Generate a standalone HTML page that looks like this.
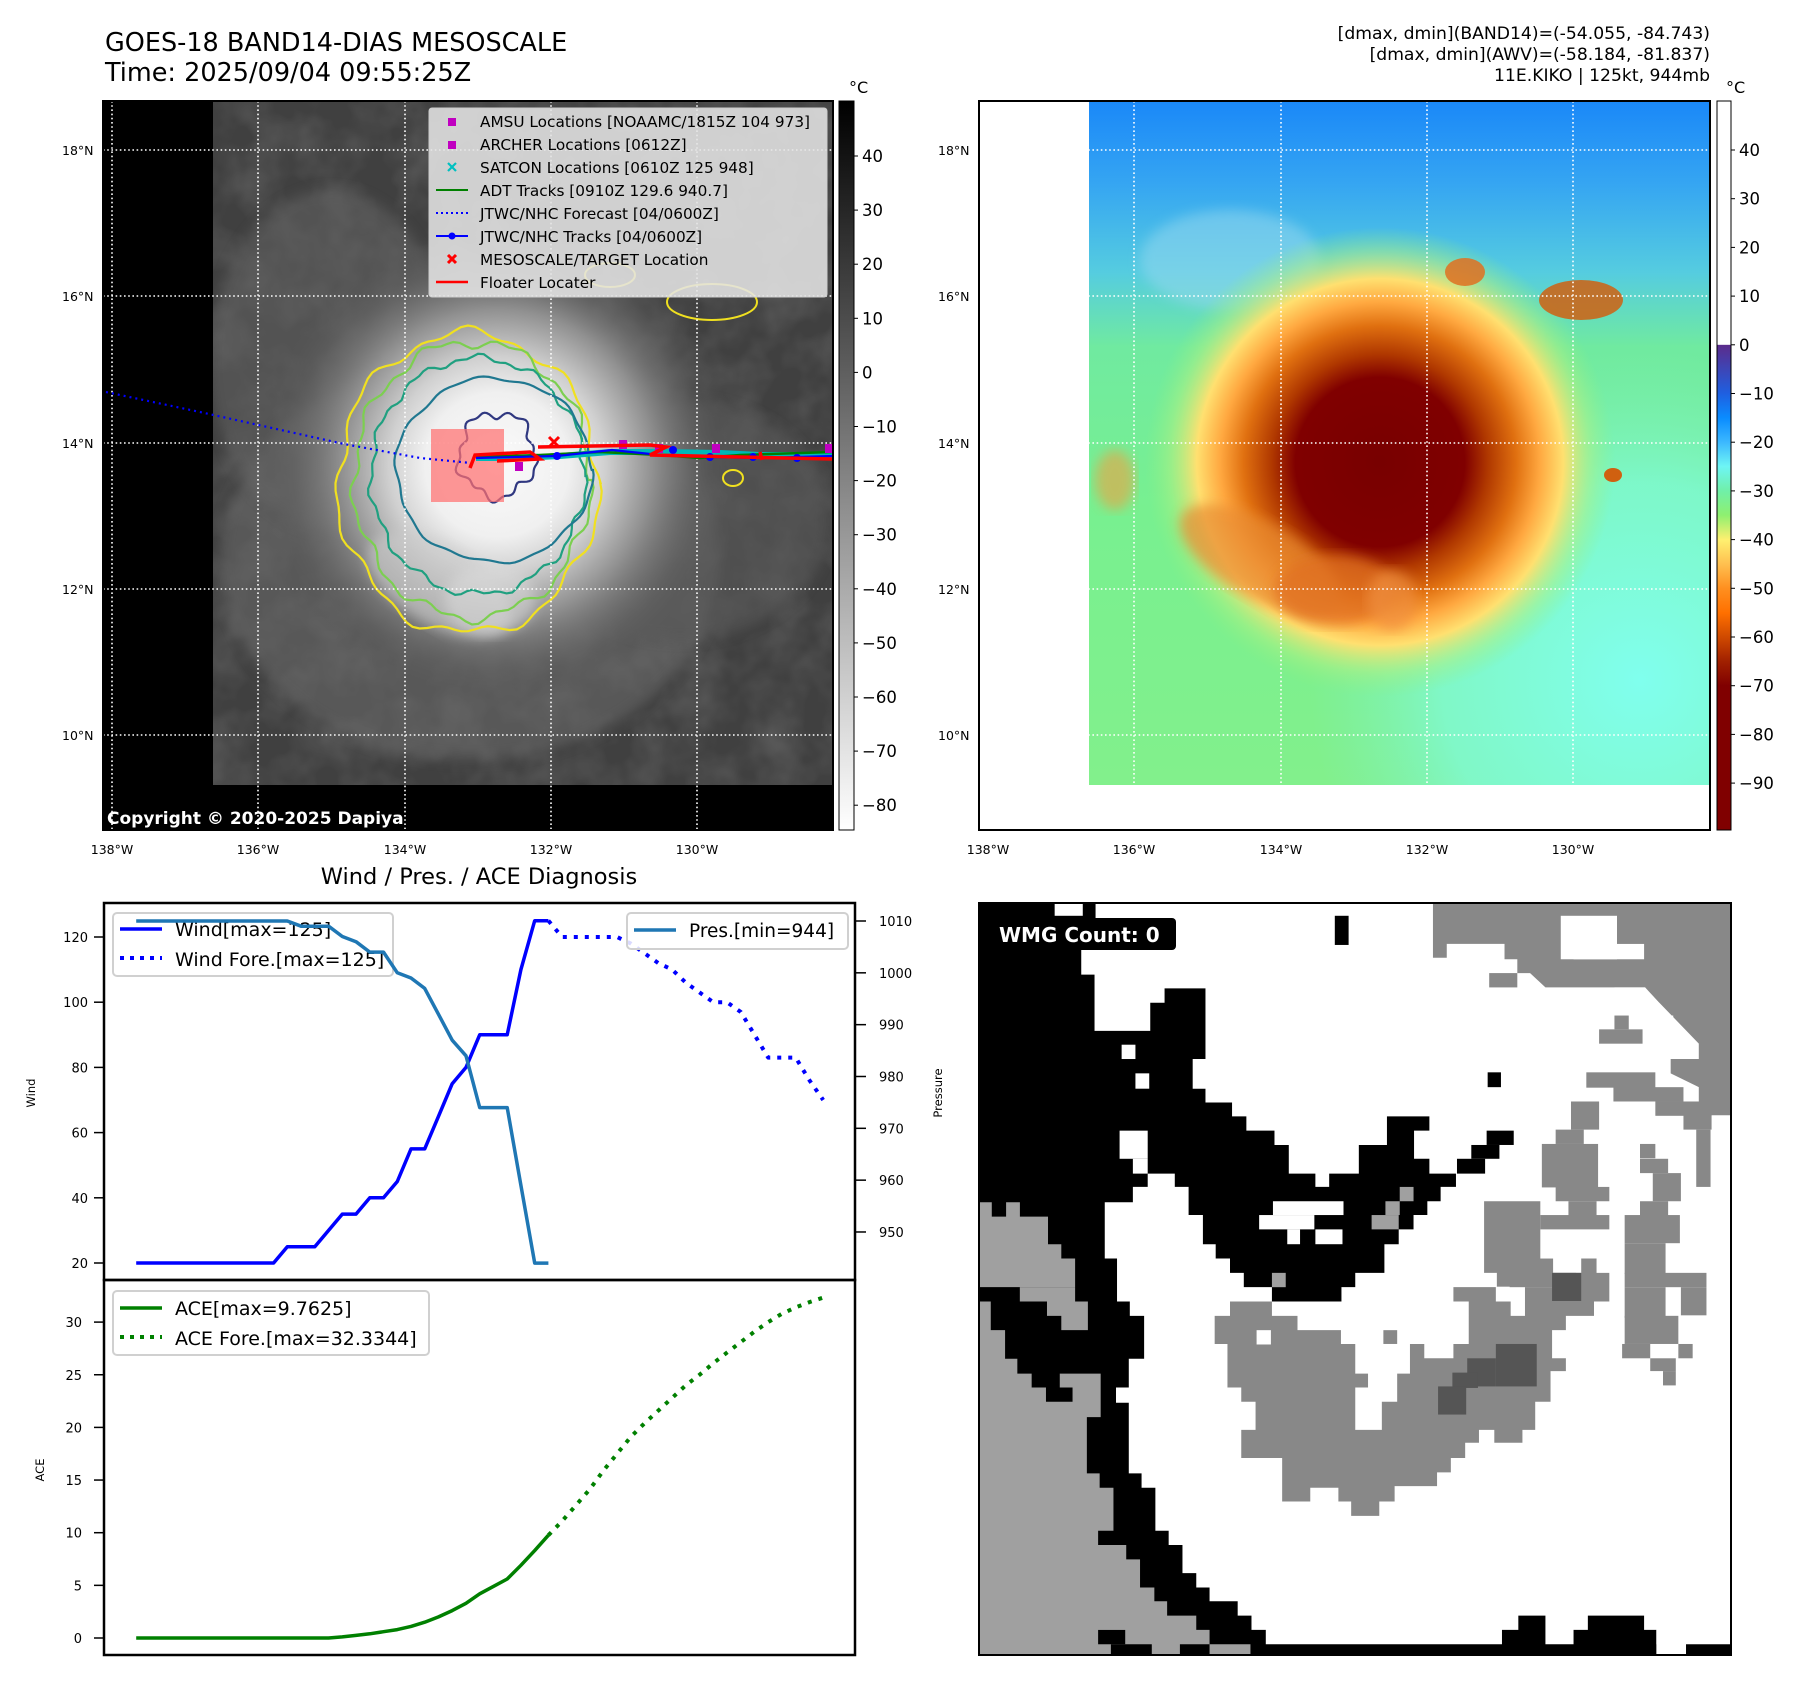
<!DOCTYPE html>
<html><head><meta charset="utf-8"><style>
body{margin:0;background:#fff}
svg{display:block}
text{font-family:"DejaVu Sans","Liberation Sans",sans-serif}
</style></head><body>
<svg id="root" width="1797" height="1690" viewBox="0 0 1797 1690" xmlns="http://www.w3.org/2000/svg">
<defs>
<linearGradient id="cbGray" x1="0" y1="0" x2="0" y2="1"><stop offset="0" stop-color="#000"/><stop offset="1" stop-color="#fff"/></linearGradient>
<linearGradient id="cbColor" x1="0" y1="0" x2="0" y2="1">
<stop offset="0" stop-color="#fff"/><stop offset="0.334" stop-color="#fff"/><stop offset="0.335" stop-color="#5b2c8c"/>
<stop offset="0.401" stop-color="#1f5fe0"/><stop offset="0.435" stop-color="#0a8cff"/><stop offset="0.468" stop-color="#3cb8ff"/>
<stop offset="0.501" stop-color="#6ef5f5"/><stop offset="0.535" stop-color="#70f0a8"/><stop offset="0.568" stop-color="#8ef070"/>
<stop offset="0.602" stop-color="#fff070"/><stop offset="0.635" stop-color="#ffc050"/><stop offset="0.668" stop-color="#ff9020"/>
<stop offset="0.702" stop-color="#ff7000"/><stop offset="0.735" stop-color="#d04a00"/><stop offset="0.769" stop-color="#a02000"/>
<stop offset="0.802" stop-color="#800000"/><stop offset="1" stop-color="#800000"/></linearGradient>
<radialGradient id="stormGray" cx="497" cy="465" r="240" gradientUnits="userSpaceOnUse">
<stop offset="0" stop-color="#fafafa"/><stop offset="0.3" stop-color="#f0f0f0"/><stop offset="0.45" stop-color="#d0d0d0"/>
<stop offset="0.65" stop-color="#909090"/><stop offset="0.85" stop-color="#666" stop-opacity="0.5"/><stop offset="1" stop-color="#555" stop-opacity="0"/></radialGradient>
<linearGradient id="bgColor" x1="0" y1="101" x2="0" y2="785" gradientUnits="userSpaceOnUse">
<stop offset="0" stop-color="#1a88f8"/><stop offset="0.12" stop-color="#35a5f2"/><stop offset="0.25" stop-color="#55cce0"/>
<stop offset="0.36" stop-color="#70eaa0"/><stop offset="0.6" stop-color="#78f090"/><stop offset="1" stop-color="#82f08c"/></linearGradient>
<radialGradient id="cyanR" cx="1640" cy="680" r="330" gradientUnits="userSpaceOnUse">
<stop offset="0" stop-color="#80ffee"/><stop offset="0.6" stop-color="#80fbe0" stop-opacity="0.7"/><stop offset="1" stop-color="#80f0c0" stop-opacity="0"/></radialGradient>
<radialGradient id="stormColor" cx="1380" cy="462" r="235" gradientUnits="userSpaceOnUse">
<stop offset="0" stop-color="#780000"/><stop offset="0.36" stop-color="#800000"/><stop offset="0.46" stop-color="#b03800"/>
<stop offset="0.58" stop-color="#e07010"/><stop offset="0.68" stop-color="#ffa840"/><stop offset="0.78" stop-color="#ffe070"/>
<stop offset="0.9" stop-color="#b0f080" stop-opacity="0.5"/><stop offset="1" stop-color="#90f080" stop-opacity="0"/></radialGradient>
<filter id="tex" x="0" y="0" width="1" height="1">
<feTurbulence type="fractalNoise" baseFrequency="0.025" numOctaves="3" seed="4"/>
<feColorMatrix values="0 0 0 0 1  0 0 0 0 1  0 0 0 0 1  0.6 0 0 0 -0.2"/>
</filter>
<filter id="blur6"><feGaussianBlur stdDeviation="6"/></filter>
<clipPath id="clipL"><rect x="213" y="101" width="620" height="684"/></clipPath>
<clipPath id="clipR"><rect x="1089" y="101" width="620" height="684"/></clipPath>
</defs>

<text x="105" y="51" font-size="25.5">GOES-18 BAND14-DIAS MESOSCALE</text>
<text x="105" y="81" font-size="25.5">Time: 2025/09/04 09:55:25Z</text>
<g font-size="17.2" text-anchor="end">
<text x="1710" y="39">[dmax, dmin](BAND14)=(-54.055, -84.743)</text>
<text x="1710" y="60">[dmax, dmin](AWV)=(-58.184, -81.837)</text>
<text x="1710" y="81">11E.KIKO | 125kt, 944mb</text>
</g>

<g>
<rect x="103" y="101" width="730" height="729" fill="#000"/>
<g clip-path="url(#clipL)">
<rect x="213" y="101" width="620" height="684" fill="#404040"/>
<rect x="213" y="101" width="620" height="684" filter="url(#tex)" opacity="0.35"/>
<ellipse cx="470" cy="560" rx="250" ry="200" fill="#707070" opacity="0.5" filter="url(#blur6)"/>
<ellipse cx="680" cy="520" rx="150" ry="120" fill="#5a5a5a" opacity="0.6" filter="url(#blur6)"/>
<ellipse cx="330" cy="360" rx="120" ry="170" fill="#666" opacity="0.5" filter="url(#blur6)"/>
<circle cx="497" cy="465" r="240" fill="url(#stormGray)"/>
<ellipse cx="440" cy="585" rx="80" ry="40" fill="#ccc" opacity="0.6" transform="rotate(30 440 585)" filter="url(#blur6)"/>
<ellipse cx="490" cy="600" rx="45" ry="35" fill="#ddd" opacity="0.5" filter="url(#blur6)"/>
<g id="contours" fill="none" stroke-width="2.2"></g>
<ellipse cx="712" cy="302" rx="45" ry="18" fill="none" stroke="#f0e020" stroke-width="2"/>
<ellipse cx="610" cy="275" rx="25" ry="12" fill="none" stroke="#f0e020" stroke-width="2"/>
<ellipse cx="733" cy="478" rx="10" ry="8" fill="none" stroke="#f0e020" stroke-width="2"/>
</g>
<g stroke="#fff" stroke-width="1.6" stroke-dasharray="1.6,2.6">
<line x1="112" y1="101" x2="112" y2="830"/><line x1="258" y1="101" x2="258" y2="830"/><line x1="405" y1="101" x2="405" y2="830"/><line x1="551" y1="101" x2="551" y2="830"/><line x1="697" y1="101" x2="697" y2="830"/>
<line x1="103" y1="150" x2="833" y2="150"/><line x1="103" y1="296" x2="833" y2="296"/><line x1="103" y1="443" x2="833" y2="443"/><line x1="103" y1="589" x2="833" y2="589"/><line x1="103" y1="735" x2="833" y2="735"/>
</g>
<rect x="431" y="429" width="73" height="73" fill="#ff7070" opacity="0.72"/>
<path d="M106,392 L200,412 L344,444 L420,458 L471,463" fill="none" stroke="#0000ff" stroke-width="2.2" stroke-dasharray="2,4"/>
<path d="M476,458 L520,458 L560,456 L610,452 L660,452 L720,453 L760,455 L800,455 L833,455" stroke="#00b8b8" stroke-width="6" fill="none"/>
<path d="M476,457 L540,455 L600,452 L660,455 L700,458 L740,455 L833,452" stroke="#008000" stroke-width="2.5" fill="none"/>
<path d="M476,458 L557,456 L612,450 L660,455 L710,457 L760,458 L833,456" stroke="#0000ff" stroke-width="2.2" fill="none"/>
<g fill="#0000ff"><circle cx="557" cy="456" r="4"/><circle cx="673" cy="450" r="4"/><circle cx="710" cy="457" r="4"/><circle cx="753" cy="457" r="4"/><circle cx="797" cy="458" r="4"/></g>
<g fill="#c000c0"><rect x="515" y="462" width="8" height="9"/><rect x="619" y="440" width="8" height="9"/><rect x="712" y="444" width="8" height="9"/><rect x="825" y="444" width="8" height="9"/><rect x="655" y="444" width="8" height="9"/></g>
<path d="M470,468 L475,455 L530,452 L540,459 L497,461 M538,447 L650,445 L666,447 L650,455 L833,459 M760,452 L762,460" stroke="#ff0000" stroke-width="3.5" fill="none"/>
<path d="M549,437 L559,447 M559,437 L549,447" stroke="#ff0000" stroke-width="3"/>
<g>
<rect x="429" y="108" width="398" height="189" rx="3" fill="#e4e4e4" fill-opacity="0.88" stroke="#ccc"/>
<g font-size="15.3" fill="#000">
<rect x="448" y="118" width="8" height="8" fill="#c000c0"/><text x="480" y="127">AMSU Locations [NOAAMC/1815Z 104 973]</text>
<rect x="448" y="141" width="8" height="8" fill="#c000c0"/><text x="480" y="150">ARCHER Locations [0612Z]</text>
<path d="M448,163 L456,171 M456,163 L448,171" stroke="#00c0c0" stroke-width="2.2"/><text x="480" y="173">SATCON Locations [0610Z 125 948]</text>
<line x1="436" y1="190" x2="468" y2="190" stroke="#008000" stroke-width="2"/><text x="480" y="196">ADT Tracks [0910Z 129.6 940.7]</text>
<line x1="436" y1="213" x2="468" y2="213" stroke="#0000ff" stroke-width="2" stroke-dasharray="2,3"/><text x="480" y="219">JTWC/NHC Forecast [04/0600Z]</text>
<line x1="436" y1="236" x2="468" y2="236" stroke="#0000ff" stroke-width="2"/><circle cx="452" cy="236" r="3.5" fill="#0000ff"/><text x="480" y="242">JTWC/NHC Tracks [04/0600Z]</text>
<path d="M448,255 L456,263 M456,255 L448,263" stroke="#ff0000" stroke-width="3"/><text x="480" y="265">MESOSCALE/TARGET Location</text>
<line x1="436" y1="282" x2="468" y2="282" stroke="#ff0000" stroke-width="2.5"/><text x="480" y="288">Floater Locater</text>
</g></g>
<text x="107" y="824" font-size="17" font-weight="bold" fill="#fff">Copyright © 2020-2025 Dapiya</text>
<rect x="103" y="101" width="730" height="729" fill="none" stroke="#000" stroke-width="2"/>
</g>
<g font-size="12.5">
<text x="62" y="155">18°N</text><text x="62" y="301">16°N</text><text x="62" y="448">14°N</text><text x="62" y="594">12°N</text><text x="62" y="740">10°N</text>
<g text-anchor="middle"><text x="112" y="854">138°W</text><text x="258" y="854">136°W</text><text x="405" y="854">134°W</text><text x="551" y="854">132°W</text><text x="697" y="854">130°W</text></g>
</g>
<rect x="839" y="101" width="15" height="729" fill="url(#cbGray)" stroke="#000" stroke-width="1"/>
<text x="849" y="93" font-size="16">°C</text>
<g id="cbL" font-size="16.5"></g>

<g>
<rect x="979" y="101" width="731" height="729" fill="#fff"/>
<g clip-path="url(#clipR)">
<rect x="1089" y="101" width="620" height="684" fill="url(#bgColor)"/>
<rect x="1089" y="101" width="620" height="684" fill="url(#cyanR)"/>
<ellipse cx="1230" cy="260" rx="90" ry="50" fill="#9ad8f0" opacity="0.5" filter="url(#blur6)"/>
<circle cx="1380" cy="462" r="235" fill="url(#stormColor)"/>
<ellipse cx="1260" cy="560" rx="90" ry="38" fill="#e88a30" opacity="0.7" transform="rotate(30 1260 560)" filter="url(#blur6)"/>
<ellipse cx="1335" cy="590" rx="60" ry="35" fill="#e07020" opacity="0.75" filter="url(#blur6)"/>
<ellipse cx="1392" cy="600" rx="25" ry="30" fill="#f09040" opacity="0.7" filter="url(#blur6)"/>
<ellipse cx="1581" cy="300" rx="42" ry="20" fill="#d06010" opacity="0.85"/>
<ellipse cx="1465" cy="272" rx="20" ry="14" fill="#e07020" opacity="0.85"/>
<ellipse cx="1613" cy="475" rx="9" ry="7" fill="#d06010"/>
<ellipse cx="1115" cy="480" rx="20" ry="30" fill="#f0a040" opacity="0.6" filter="url(#blur6)"/>
</g>
<g stroke="#fff" stroke-width="1.6" stroke-dasharray="1.6,2.6">
<line x1="988" y1="101" x2="988" y2="830"/><line x1="1134" y1="101" x2="1134" y2="830"/><line x1="1281" y1="101" x2="1281" y2="830"/><line x1="1427" y1="101" x2="1427" y2="830"/><line x1="1573" y1="101" x2="1573" y2="830"/>
<line x1="979" y1="150" x2="1710" y2="150"/><line x1="979" y1="296" x2="1710" y2="296"/><line x1="979" y1="443" x2="1710" y2="443"/><line x1="979" y1="589" x2="1710" y2="589"/><line x1="979" y1="735" x2="1710" y2="735"/>
</g>
<rect x="979" y="101" width="731" height="729" fill="none" stroke="#000" stroke-width="2"/>
</g>
<g font-size="12.5">
<text x="938" y="155">18°N</text><text x="938" y="301">16°N</text><text x="938" y="448">14°N</text><text x="938" y="594">12°N</text><text x="938" y="740">10°N</text>
<g text-anchor="middle"><text x="988" y="854">138°W</text><text x="1134" y="854">136°W</text><text x="1281" y="854">134°W</text><text x="1427" y="854">132°W</text><text x="1573" y="854">130°W</text></g>
</g>
<rect x="1717" y="101" width="14" height="729" fill="url(#cbColor)" stroke="#000" stroke-width="1"/>
<text x="1726" y="93" font-size="16">°C</text>
<g id="cbR" font-size="16.5"></g>

<text x="479" y="884" font-size="22.5" text-anchor="middle">Wind / Pres. / ACE Diagnosis</text>
<g id="charts"></g>

<g>
<svg x="979" y="903" width="752" height="752" viewBox="37 45 1471 1470" preserveAspectRatio="none">
<rect x="37" y="45" width="1471" height="1470" fill="#fff"/>
<polygon fill="#000" points="37,45 265,45 265,135 237,135 237,185 263,185 263,295 372,295 372,240 400,240 400,212 480,212 480,350 455,350 455,408 480,408 480,435 532,435 532,462 560,462 560,490 615,490 615,518 643,518 643,574 695,574 695,600 722,600 722,574 780,574 780,518 835,518 835,462 918,462 918,490 888,490 888,545 918,545 918,574 970,574 970,600 940,600 940,628 914,628 914,655 887,655 887,683 858,683 858,712 830,712 830,768 773,768 773,796 746,796 746,824 610,824 610,796 555,796 555,768 528,768 528,740 500,740 500,712 475,712 475,655 447,655 447,600 420,600 420,574 367,574 367,600 338,600 338,630 283,630 283,740 307,740 307,824 332,824 332,852 360,852 360,936 330,936 330,992 305,992 305,1022 330,1022 330,1160 355,1160 355,1188 382,1188 382,1272 408,1272 408,1300 435,1300 435,1355 462,1355 462,1383 488,1383 488,1410 543,1410 543,1438 570,1438 570,1466 598,1466 598,1494 1060,1494 1060,1466 1092,1466 1092,1438 1145,1438 1145,1494 1200,1494 1200,1466 1228,1466 1228,1438 1338,1438 1338,1466 1362,1466 1362,1515 37,1515"/>
<g fill="#fff"><rect x="185" y="45" width="55" height="25"/><rect x="316" y="322" width="27" height="28"/><rect x="343" y="378" width="27" height="30"/><rect x="312" y="490" width="55" height="55"/><rect x="338" y="545" width="29" height="29"/><rect x="612" y="628" width="138" height="27"/><rect x="585" y="655" width="108" height="28"/><rect x="640" y="683" width="25" height="29"/><rect x="695" y="683" width="53" height="29"/><rect x="1362" y="1466" width="146" height="28"/><rect x="1420" y="1494" width="88" height="21" fill="#000"/></g>
<g fill="#000"><rect x="733" y="70" width="27" height="57"/><rect x="1032" y="376" width="26" height="29"/><rect x="1030" y="490" width="53" height="28"/><rect x="1000" y="518" width="55" height="27"/><rect x="972" y="545" width="55" height="29"/></g>
<polygon fill="#a0a0a0" points="37,630 62,630 62,658 90,658 90,630 117,630 117,658 172,658 172,712 198,712 198,740 225,740 225,796 117,796 117,824 37,824 37,796"/>
<polygon fill="#000" points="37,796 117,796 117,824 37,824"/>
<polygon fill="#a0a0a0" points="117,796 225,796 225,824 250,824 250,880 198,880 198,852 170,852 170,824 117,824"/>
<polygon fill="#a0a0a0" points="37,824 60,824 60,880 88,880 88,936 112,936 112,965 140,965 140,992 168,992 168,1020 220,1020 220,992 195,992 195,965 275,965 275,1050 248,1050 248,1160 273,1160 273,1188 300,1188 300,1272 270,1272 270,1300 325,1300 325,1328 352,1328 352,1383 380,1383 380,1410 405,1410 405,1438 462,1438 462,1466 488,1466 488,1494 568,1494 568,1515 37,1515"/>
<g fill="#000"><rect x="270" y="1466" width="53" height="28"/><rect x="295" y="1494" width="80" height="21"/><rect x="430" y="1494" width="58" height="21"/></g>
<g fill="#a0a0a0"><rect x="860" y="600" width="27" height="28"/><rect x="832" y="628" width="28" height="27"/><rect x="805" y="655" width="53" height="28"/><rect x="610" y="768" width="27" height="28"/></g>
<polygon fill="#888" points="925,45 1508,45 1508,460 1445,460 1445,405 1390,378 1390,350 1445,350 1445,320 1392,265 1365,237 1340,210 1145,210 1115,182 1090,182 1090,155 1065,155 1065,125 952,125 952,152 925,152"/>
<g fill="#fff"><rect x="1175" y="70" width="110" height="85"/><rect x="1200" y="125" width="138" height="30"/><rect x="1280" y="210" width="60" height="27"/><rect x="1365" y="265" width="30" height="60"/><rect x="1335" y="292" width="60" height="35"/><rect x="1255" y="237" width="110" height="28"/></g>
<g fill="#888"><rect x="1035" y="182" width="55" height="28"/><rect x="1250" y="292" width="85" height="28"/><rect x="1280" y="265" width="28" height="27"/><rect x="1225" y="376" width="135" height="30"/><rect x="1278" y="405" width="137" height="28"/><rect x="1360" y="433" width="110" height="28"/><rect x="1415" y="460" width="55" height="28"/><rect x="1440" y="488" width="28" height="112"/><rect x="1195" y="433" width="55" height="55"/><rect x="1165" y="488" width="55" height="28"/><rect x="1138" y="516" width="110" height="85"/><rect x="1165" y="600" width="105" height="28"/><rect x="1330" y="516" width="30" height="28"/><rect x="1330" y="545" width="55" height="28"/><rect x="1355" y="573" width="55" height="55"/><rect x="1330" y="628" width="55" height="28"/><rect x="1300" y="655" width="108" height="55"/><rect x="1300" y="710" width="80" height="60"/><rect x="1300" y="768" width="160" height="28"/><rect x="1300" y="796" width="80" height="60"/><rect x="1410" y="796" width="50" height="55"/><rect x="1300" y="852" width="105" height="55"/><rect x="1295" y="907" width="55" height="28"/><rect x="1405" y="907" width="28" height="28"/><rect x="1350" y="935" width="50" height="25"/><rect x="1375" y="960" width="25" height="28"/><rect x="1025" y="628" width="110" height="140"/><rect x="1135" y="655" width="135" height="28"/><rect x="1190" y="628" width="55" height="30"/><rect x="1050" y="740" width="110" height="55"/><rect x="1075" y="768" width="130" height="28"/><rect x="828" y="880" width="27" height="27"/></g>
<polygon fill="#888" points="528,824 610,824 610,852 660,852 660,880 745,880 745,907 773,907 773,965 798,965 798,992 773,992 773,1075 825,1075 825,1020 855,1020 855,965 880,965 880,907 908,907 908,935 965,935 965,907 995,907 995,824 965,824 965,796 1048,796 1048,824 1077,824 1077,852 1105,852 1105,796 1158,796 1158,768 1215,768 1215,740 1245,740 1245,768 1270,768 1270,824 1240,824 1240,852 1185,852 1185,880 1158,880 1158,935 1185,935 1185,960 1155,960 1155,1020 1125,1020 1125,1075 1100,1075 1100,1100 1045,1100 1045,1075 1015,1075 1015,1100 988,1100 988,1130 960,1130 960,1158 933,1158 933,1185 850,1185 850,1215 820,1215 820,1243 765,1243 765,1215 740,1215 740,1188 685,1188 685,1215 630,1215 630,1130 550,1130 550,1075 578,1075 578,1020 550,1020 550,992 523,992 523,907 498,907 498,852 528,852"/>
<rect x="580" y="880" width="28" height="28" fill="#fff"/>
<g fill="#555"><rect x="1158" y="768" width="57" height="55"/><rect x="1048" y="907" width="80" height="83"/><rect x="992" y="935" width="56" height="55"/><rect x="963" y="963" width="50" height="30"/><rect x="935" y="990" width="55" height="55"/></g>
</svg>
<rect x="979" y="903" width="752" height="752" fill="none" stroke="#000" stroke-width="2"/>
<rect x="994" y="918" width="182" height="32" rx="4" fill="#000"/>
<text x="999" y="942" font-size="20" font-weight="bold" fill="#fff">WMG Count: 0</text>
</g>
</svg>

<script>
const windHist = [20,20,20,20,20,20,20,20,20,20,20,25,25,25,30,35,35,40,40,45,55,55,65,75,80,90,90,90,110,125,125];
const windFore = [125,120,120,120,120,120,118,115,112,110,106,103,100,100,97,90,83,83,83,76,70];
const presHist = [1010,1010,1010,1010,1010,1010,1010,1010,1010,1010,1010,1010,1009,1009,1009,1007,1006,1004,1004,1000,999,997,992,987,984,974,974,974,959,944,944];
const aceHist = [0,0,0,0,0,0,0,0,0,0,0,0,0,0,0,0.1,0.25,0.4,0.6,0.8,1.1,1.5,2.0,2.6,3.3,4.2,4.9,5.6,6.9,8.3,9.76];
const aceFore = [9.76,11.1,12.6,14.1,15.9,17.5,19.1,20.4,21.6,22.8,24.0,25.0,26.1,27.1,28.1,29.1,30.0,30.8,31.4,31.9,32.33];
const windTicks = [20,40,60,80,100,120];
const presTicks = [950,960,970,980,990,1000,1010];
const aceTicks = [0,5,10,15,20,25,30];
const irCbTicks = [40,30,20,10,0,-10,-20,-30,-40,-50,-60,-70,-80];
const awvCbTicks = [40,30,20,10,0,-10,-20,-30,-40,-50,-60,-70,-80,-90];

const NS = 'http://www.w3.org/2000/svg';
function mk(tag, attrs, parent){const e=document.createElementNS(NS,tag);for(const k in attrs)e.setAttribute(k,attrs[k]);parent.appendChild(e);return e;}
const xI = i => 136.2 + i*13.74;
const yW = w => 1263 - (w-20)*3.26;
const yP = p => 921 + (1010-p)*5.183;
const yA = a => 1638 - a*10.53;
const fmt = v => v<0 ? '\u2212'+(-v) : ''+v;

const cbL = document.getElementById('cbL');
irCbTicks.forEach(v=>{const y=156+(40-v)*5.41;
 mk('line',{x1:854,y1:y,x2:858,y2:y,stroke:'#000'},cbL);
 const tx=mk('text',{x:862,y:y+6},cbL);tx.textContent=fmt(v);
 
 });
const cbR = document.getElementById('cbR');
awvCbTicks.forEach(v=>{const y=150+(40-v)*4.87;
 mk('line',{x1:1731,y1:y,x2:1735,y2:y,stroke:'#000'},cbR);
 const tx=mk('text',{x:1739,y:y+6},cbR);tx.textContent=fmt(v);
 
 });

const cg=document.getElementById('contours');
function wob(cx,cy,rx,ry,amp,f,col,name){let d='';for(let k=0;k<=120;k++){const a=k/120*Math.PI*2;const r=1+amp*(Math.sin(a*f)*0.6+Math.sin(a*f*2.3+1)*0.4);d+=(k?'L':'M')+(cx+rx*r*Math.cos(a)).toFixed(1)+','+(cy+ry*r*Math.sin(a)).toFixed(1);}
 const p=mk('path',{d:d+'Z',stroke:col},cg);
 
 }
wob(468,483,130,150,0.05,7,'#f0e020','contour-minus31');
wob(472,480,118,138,0.05,9,'#7ccf50','contour-minus42');
wob(478,476,107,118,0.04,11,'#20a080','contour-minus54');
wob(494,470,98,92,0.03,6,'#207890','contour-minus64');
wob(497,455,38,42,0.15,5,'#303880','contour-minus76');

const ch=document.getElementById('charts');
const f1=mk('rect',{x:104,y:903,width:751,height:377,fill:'none',stroke:'#000','stroke-width':2.5},ch);


const f2=mk('rect',{x:104,y:1280,width:751,height:375,fill:'none',stroke:'#000','stroke-width':2.5},ch);


windTicks.forEach(v=>{const y=yW(v);mk('line',{x1:94,y1:y,x2:104,y2:y,stroke:'#000','stroke-width':1.5},ch);
 const t=mk('text',{x:88,y:y+5,'font-size':13,'text-anchor':'end'},ch);t.textContent=v;
 
 });
presTicks.forEach(v=>{const y=yP(v);mk('line',{x1:855,y1:y,x2:866,y2:y,stroke:'#000','stroke-width':1.5},ch);
 const t=mk('text',{x:879,y:y+5,'font-size':13},ch);t.textContent=v;
 
 });
aceTicks.forEach(v=>{const y=yA(v);mk('line',{x1:94,y1:y,x2:104,y2:y,stroke:'#000','stroke-width':1.5},ch);
 const t=mk('text',{x:82,y:y+5,'font-size':13,'text-anchor':'end'},ch);t.textContent=v;
 
 });
function lbl(txt,x,y,name){const t=mk('text',{x:x,y:y,'font-size':11.5,'text-anchor':'middle',transform:'rotate(-90 '+x+' '+y+')'},ch);t.textContent=txt;
 
 }
lbl('Wind',35,1093,'wind-axis-title');lbl('Pressure',942,1093,'pressure-axis-title');lbl('ACE',44,1470,'ace-axis-title');
function line(vals,off,yf,col,w,dash,name){const d=vals.map((v,i)=>(i?'L':'M')+xI(i+off).toFixed(1)+','+yf(v).toFixed(1)).join('');
 const a={d:d,fill:'none',stroke:col,'stroke-width':w,'stroke-linejoin':'round'};if(dash)a['stroke-dasharray']=dash;
 const p=mk('path',a,ch);
 
 }
function legbox(x,y,w,h){mk('rect',{x:x,y:y,width:w,height:h,rx:4,fill:'#fff','fill-opacity':0.85,stroke:'#d0d0d0','stroke-width':2},ch);}
legbox(113,913,280,63);
mk('line',{x1:120,y1:929,x2:162,y2:929,stroke:'#0000ff','stroke-width':3.5},ch);
mk('line',{x1:120,y1:958,x2:162,y2:958,stroke:'#0000ff','stroke-width':4,'stroke-dasharray':'4,6'},ch);
let t=mk('text',{x:175,y:936,'font-size':19},ch);t.textContent='Wind[max=125]';


t=mk('text',{x:175,y:966,'font-size':19},ch);t.textContent='Wind Fore.[max=125]';


line(windHist,0,yW,'#0000ff',3.5,null,'wind-line');
line(windFore,30,yW,'#0000ff',4,'4,7','wind-forecast-line');
line(presHist,0,yP,'#1f77b4',3.5,null,'pressure-line');
legbox(627,913,221,36);
mk('line',{x1:634,y1:930,x2:676,y2:930,stroke:'#1f77b4','stroke-width':3.5},ch);
t=mk('text',{x:689,y:937,'font-size':18.5},ch);t.textContent='Pres.[min=944]';


legbox(113,1291,316,64);
mk('line',{x1:120,y1:1308,x2:162,y2:1308,stroke:'#008000','stroke-width':3.5},ch);
mk('line',{x1:120,y1:1337,x2:162,y2:1337,stroke:'#008000','stroke-width':4,'stroke-dasharray':'4,6'},ch);
t=mk('text',{x:175,y:1315,'font-size':19},ch);t.textContent='ACE[max=9.7625]';


t=mk('text',{x:175,y:1345,'font-size':19},ch);t.textContent='ACE Fore.[max=32.3344]';


line(aceHist,0,yA,'#008000',3.5,null,'ace-line');
line(aceFore,30,yA,'#008000',4,'4,7','ace-forecast-line');
</script>
</body></html>
